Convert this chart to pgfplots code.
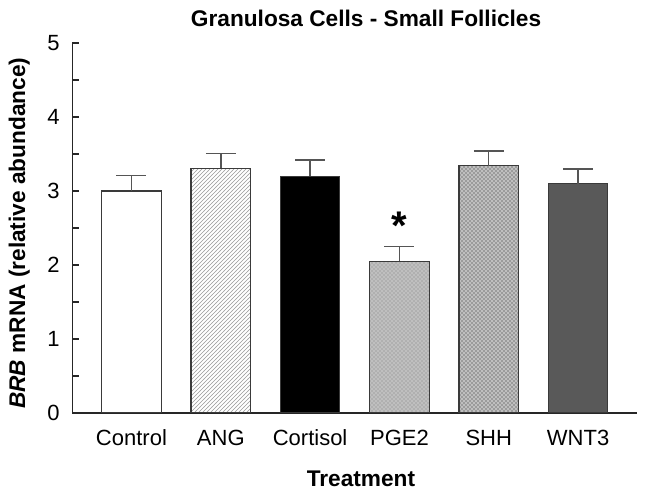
\documentclass[border=0pt]{standalone}
\usepackage{fontspec}
\setmainfont{Liberation Sans}
\usepackage{pgfplots}
\pgfplotsset{compat=1.18}
\usetikzlibrary{patterns}
\definecolor{edge}{HTML}{3A3A3A}
\definecolor{errc}{HTML}{555555}
\definecolor{wnt}{HTML}{595959}
\begin{document}
\begin{tikzpicture}
\useasboundingbox (-54.375pt,-61.5pt) rectangle (429.375pt,309.75pt);
\begin{axis}[
  at={(0,0)}, anchor=south west,
  scale only axis, width=423.4pt, height=277.5pt,
  xmin=-0.66, xmax=5.66, ymin=0, ymax=5,
  axis x line*=bottom, axis y line*=left,
  axis line style={-, line width=0.8pt, color=black!85},
  xtick={0,1,2,3,4,5},
  xticklabels={Control,ANG,Cortisol,PGE2,SHH,WNT3},
  xtick style={draw=none},
  xticklabel style={anchor=base, yshift=-24pt, font=\fontsize{16.5}{18}\selectfont},
  ytick={0,1,2,3,4,5}, minor ytick={0.5,1.5,2.5,3.5,4.5},
  tick align=inside, ytick pos=left,
  major tick length=5.25pt, minor tick length=5.25pt,
  ytick style={line width=0.8pt, color=black!85},
  minor y tick style={line width=0.8pt, color=black!85},
  yticklabel style={anchor=east, inner sep=0pt, xshift=-9.4pt, font=\fontsize{16.5}{18}\selectfont},
  /pgf/number format/assume math mode=true,
  title={Granulosa Cells - Small Follicles},
  title style={at={(axis description cs:0.52,1.022)}, anchor=base, font=\bfseries\fontsize{17}{20}\selectfont},
  xlabel={Treatment},
  xlabel style={at={(axis description cs:0.511,-0.199)}, anchor=base, font=\bfseries\fontsize{17}{20}\selectfont},
  ylabel={\textit{BRB} mRNA (relative abundance)},
  ylabel style={at={(axis description cs:-0.0841,0.486)}, anchor=base, font=\bfseries\fontsize{17}{20}\selectfont},
  every axis plot/.append style={ybar, bar width=0.667, bar shift=0pt, draw=edge, line width=0.8pt,
    error bars/y dir=plus, error bars/y explicit,
    error bars/error bar style={color=errc, line width=1.1pt},
    error bars/error mark options={color=errc, line width=1.1pt, mark size=11.25pt, rotate=90}},
]
\addplot[fill=white] coordinates {(0,3.00) +- (0,0.21)};
\addplot[fill=white, postaction={pattern=north east lines, pattern color=black!40}] coordinates {(1,3.31) +- (0,0.20)};
\addplot[fill=black] coordinates {(2,3.20) +- (0,0.22)};
\addplot[fill=black!25, postaction={pattern=crosshatch dots, pattern color=black!50}] coordinates {(3,2.05) +- (0,0.20)};
\addplot[fill=black!25, postaction={pattern=crosshatch dots, pattern color=black!85}] coordinates {(4,3.34) +- (0,0.20)};
\addplot[fill=wnt] coordinates {(5,3.10) +- (0,0.20)};
\node[anchor=base, font=\bfseries\fontsize{30}{32}\selectfont] at (axis cs:3,2.34) {*};
\end{axis}
\end{tikzpicture}
\end{document}
